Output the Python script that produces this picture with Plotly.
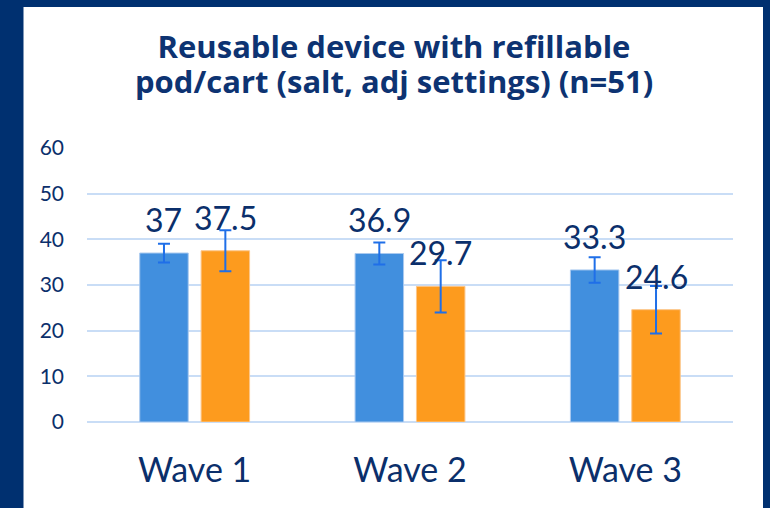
import plotly.graph_objects as go

categories = ["Wave 1", "Wave 2", "Wave 3"]
series_a = [37, 36.9, 33.3]
series_b = [37.5, 29.7, 24.6]
err_a = [2.05, 2.4, 2.8]
err_b = [4.5, 5.7, 5.2]
y_ticks = [0, 10, 20, 30, 40, 50, 60]
title_lines = ["Reusable device with refillable", "pod/cart (salt, adj settings) (n=51)"]

W, H = 770, 508
ML, MR, MT, MB = 87, 37, 148, 86
BARGAP, BARGROUPGAP = 0.43, 0.21

NAVY = "#0b2f6b"
TITLE = "#0d3372"
BLUE = "#418fde"
ORANGE = "#fd9b1e"
ERR = "#1f6fe8"
GRID = "#c9ddf6"
FONT = "Lato"
TFONT = dict(family="Open Sans", size=31, color=TITLE)

fig = go.Figure()
fig.add_trace(go.Bar(
    x=categories, y=series_a, marker=dict(color=BLUE, line=dict(color="#a9c9ef", width=1)),
    error_y=dict(type="data", array=err_a, color=ERR, thickness=2, width=6),
    showlegend=False,
))
fig.add_trace(go.Bar(
    x=categories, y=series_b, marker=dict(color=ORANGE, line=dict(color="#fcc68a", width=1)),
    error_y=dict(type="data", array=err_b, color=ERR, thickness=2, width=6),
    showlegend=False,
))

plot_w = W - ML - MR
plot_h = H - MT - MB
slot = plot_w / len(categories) * (1 - BARGAP) / 2
for vals, sign in ((series_a, -1), (series_b, 1)):
    for c, v in zip(categories, vals):
        fig.add_annotation(x=c, y=v, xref="x", yref="y", text=f"{v:g}", showarrow=False,
                           yanchor="bottom", xanchor="center", xshift=sign * slot / 2, yshift=12,
                           font=dict(family=FONT, size=32, color=NAVY))

# second title line
fig.add_annotation(x=(394 - ML) / plot_w, y=(H - MB - 104) / plot_h, xref="paper", yref="paper",
                   text=f"<b>{title_lines[1]}</b>", showarrow=False, xanchor="center", yanchor="bottom",
                   font=TFONT)

fig.add_shape(type="rect", xref="paper", yref="paper",
              x0=(23.5 - ML) / plot_w, x1=(763 - ML) / plot_w,
              y0=-MB / plot_h - 0.01, y1=(H - MB - 7) / plot_h,
              fillcolor="white", line=dict(width=0), layer="below")

fig.update_layout(
    width=W, height=H,
    margin=dict(l=ML, r=MR, t=MT, b=MB, autoexpand=False),
    paper_bgcolor="#003070", plot_bgcolor="rgba(0,0,0,0)",
    barmode="group", bargap=BARGAP, bargroupgap=BARGROUPGAP,
    title=dict(text=f"<b>{title_lines[0]}</b>",
               x=394 / W, xanchor="center", xref="container",
               y=1 - 36 / H, yanchor="top", yref="container",
               font=TFONT),
    font=dict(family=FONT, color=NAVY),
)
fig.update_yaxes(range=[0, 60], tickvals=y_ticks, showgrid=True, gridcolor=GRID, gridwidth=1.5,
                 zeroline=True, zerolinecolor=GRID, zerolinewidth=1.5, automargin=False,
                 tickfont=dict(family=FONT, size=21, color=NAVY), ticklabelstandoff=22, fixedrange=True)
fig.update_xaxes(showgrid=False, showline=False, automargin=False,
                 tickfont=dict(family=FONT, size=34, color=NAVY), ticklabelstandoff=25)

fig.write_html("out.html", config={"displayModeBar": False},
               post_script="document.body.style.margin='0';document.body.style.background='#003070';")
